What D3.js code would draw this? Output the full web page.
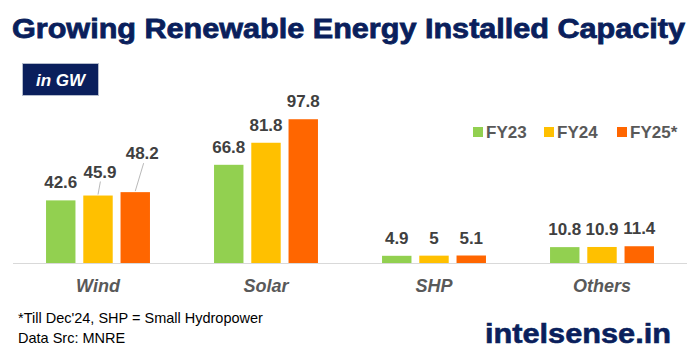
<!DOCTYPE html>
<html>
<head>
<meta charset="utf-8">
<script src="https://cdn.jsdelivr.net/npm/d3@7"></script>
<style>
  body { margin: 0; background: #fff; }
  svg { display: block; font-family: "Liberation Sans", Arial, sans-serif; }
</style>
</head>
<body>
<div id="chart"></div>
<script>
// data
var categories = ["Wind", "Solar", "SHP", "Others"];
var series = ["FY23", "FY24", "FY25*"];
var fy23 = [42.6, 66.8, 4.9, 10.8];
var fy24 = [45.9, 81.8, 5, 10.9];
var fy25 = [48.2, 97.8, 5.1, 11.4];
var values = [fy23, fy24, fy25];

var width = 696, height = 361;
var colors = ["#92d050", "#ffc000", "#ff6600"];
var navy = "#0a1f5c";

var svg = d3.select("#chart").append("svg")
    .attr("width", width)
    .attr("height", height);

// title
svg.append("text")
    .attr("x", 12)
    .attr("y", 38)
    .attr("font-size", 27)
    .attr("font-weight", "bold")
    .attr("fill", navy)
    .attr("stroke", navy)
    .attr("stroke-width", 0.8)
    .attr("textLength", 673)
    .attr("lengthAdjust", "spacingAndGlyphs")
    .text("Growing Renewable Energy Installed Capacity");

// unit box
svg.append("rect")
    .attr("x", 22.5).attr("y", 63.5)
    .attr("width", 76).attr("height", 32)
    .attr("fill", navy)
    .attr("stroke", "#b4bccc");
svg.append("text")
    .attr("x", 60.5).attr("y", 85.5)
    .attr("text-anchor", "middle")
    .attr("font-size", 17)
    .attr("font-weight", "bold")
    .attr("font-style", "italic")
    .attr("fill", "#fff")
    .text("in GW");

var baseline = 263;
var x0 = d3.scaleBand().domain(categories).range([14, 686]);
var x1 = d3.scaleBand().domain(series).range([0, x0.bandwidth()])
    .paddingInner(0.21).paddingOuter(0.86);
var y = d3.scaleLinear().domain([0, 100]).range([baseline, 116]);

// axis line
svg.append("line")
    .attr("x1", 13).attr("x2", 687)
    .attr("y1", baseline + 0.5).attr("y2", baseline + 0.5)
    .attr("stroke", "#d9d9d9");

var rows = [];
series.forEach(function(s, si) {
  categories.forEach(function(c, ci) {
    rows.push({cat: c, ser: s, si: si, v: values[si][ci]});
  });
});

svg.append("g").selectAll("rect")
    .data(rows)
    .enter().append("rect")
    .attr("x", function(d) { return x0(d.cat) + x1(d.ser); })
    .attr("y", function(d) { return y(d.v); })
    .attr("width", x1.bandwidth())
    .attr("height", function(d) { return baseline - y(d.v); })
    .attr("fill", function(d) { return colors[d.si]; });

// labels moved off the bar get a leader line
var moved = {"Wind|FY24": [2, -6], "Wind|FY25*": [7, -21]};

var labels = svg.append("g");
rows.forEach(function(d) {
  var cx = x0(d.cat) + x1(d.ser) + x1.bandwidth() / 2;
  var off = moved[d.cat + "|" + d.ser] || [0, 0];
  var ty = y(d.v) - 12 + off[1];
  if (off[1] !== 0) {
    labels.append("line")
      .attr("x1", cx).attr("y1", y(d.v) - 1)
      .attr("x2", cx + off[0] * 1.2).attr("y2", ty + 4)
      .attr("stroke", "#a6a6a6")
      .attr("stroke-width", 0.8);
  }
  labels.append("text")
    .attr("x", cx + off[0])
    .attr("y", ty)
    .attr("text-anchor", "middle")
    .attr("font-size", 17)
    .attr("font-weight", "bold")
    .attr("fill", "#404040")
    .text(d.v);
});

// category labels
svg.append("g").selectAll("text")
    .data(categories)
    .enter().append("text")
    .attr("x", function(d) { return x0(d) + x0.bandwidth() / 2; })
    .attr("y", 292)
    .attr("text-anchor", "middle")
    .attr("font-size", 18)
    .attr("font-weight", "bold")
    .attr("font-style", "italic")
    .attr("fill", "#595959")
    .text(function(d) { return d; });

// legend
var legendX = [473, 544, 617];
var leg = svg.append("g").selectAll("g")
    .data(series)
    .enter().append("g")
    .attr("transform", function(d, i) { return "translate(" + legendX[i] + ",127)"; });
leg.append("rect")
    .attr("width", 10).attr("height", 10)
    .attr("fill", function(d, i) { return colors[i]; });
leg.append("text")
    .attr("x", 13).attr("y", 11)
    .attr("font-size", 17)
    .attr("font-weight", "bold")
    .attr("fill", "#595959")
    .text(function(d) { return d; });

// footnotes
svg.append("text")
    .attr("x", 18).attr("y", 323)
    .attr("font-size", 14.5)
    .attr("fill", "#000")
    .text("*Till Dec'24, SHP = Small Hydropower");
svg.append("text")
    .attr("x", 18).attr("y", 343)
    .attr("font-size", 14.5)
    .attr("fill", "#000")
    .text("Data Src: MNRE");

svg.append("text")
    .attr("x", 485).attr("y", 343)
    .attr("font-size", 28)
    .attr("font-weight", "bold")
    .attr("fill", navy)
    .attr("stroke", navy)
    .attr("stroke-width", 0.6)
    .attr("textLength", 186)
    .attr("lengthAdjust", "spacingAndGlyphs")
    .text("intelsense.in");
</script>
</body>
</html>
